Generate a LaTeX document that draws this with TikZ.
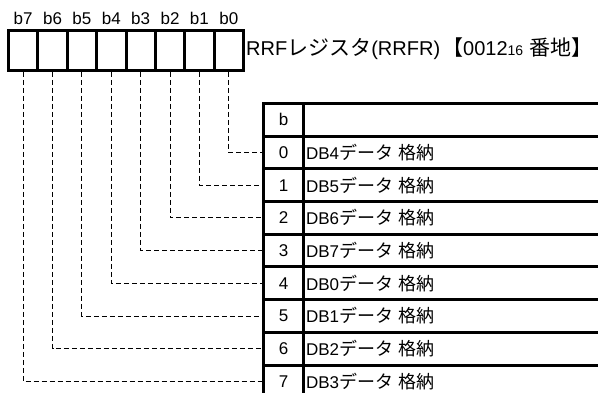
\documentclass[tikz,border=0pt]{standalone}
\usepackage{fontspec}
\usetikzlibrary{calc}
\setmainfont{Liberation Sans}
\newfontfamily\jp{Noto Sans CJK JP}
\begin{document}
\begin{tikzpicture}[x=1pt,y=-1pt,
  regcell/.style={draw,line width=3pt,minimum width=29.375pt,minimum height=40pt,inner sep=0pt,anchor=north west},
  bitlbl/.style={font=\fontsize{17}{17}\selectfont,inner sep=0pt,anchor=base},
  tcell/.style={draw,line width=3pt,minimum height=32.7pt,inner sep=0pt,anchor=north west},
  numcell/.style={tcell,minimum width=40pt,font=\fontsize{17}{17}\selectfont},
  desccell/.style={tcell,minimum width=320pt,text width=315pt,inner xsep=2.5pt,align=left,font=\fontsize{17}{17}\selectfont},
  conn/.style={line width=0.9pt,dash pattern=on 5pt off 3pt},
  title/.style={font=\fontsize{20}{20}\selectfont,inner sep=0pt,anchor=base west}
]
\useasboundingbox (0,0) rectangle (598,393);
% register
\foreach \i in {0,...,7}{
  \pgfmathsetmacro{\xx}{7+(7-\i)*29.375}
  \node[regcell] (r\i) at (\xx,29) {};
  \node[bitlbl] (l\i) at ($(r\i.north)+(0,-4.8)$) {b\i};
}
\newcommand{\jpt}[1]{{\fontsize{21}{21}\selectfont\jp #1}}
\node[title] (ttl) at (246,56) {RRF\jpt{レジスタ}(RRFR)\hspace{2pt}\jpt{【}0012{\fontsize{14}{14}\selectfont 16}\hspace{6pt}\jpt{番地】}};
% table header
\node[numcell] (hb) at (262,102) {b};
\node[desccell] (hd) at (302,102) {};
% table rows
\newcommand{\dbname}[1]{DB#1{\fontsize{18}{18}\selectfont\jp データ}\hspace{5pt}{\fontsize{18}{18}\selectfont\jp 格納}}
\foreach \i/\d in {0/4,1/5,2/6,3/7,4/0,5/1,6/2,7/3}{
  \pgfmathsetmacro{\yy}{134.7+\i*32.7}
  \node[numcell] (n\i) at (262,\yy) {\i};
  \node[desccell] (d\i) at (302,\yy) {\dbname{\d}};
}
% connectors
\foreach \i in {0,...,7}{
  \draw[conn] (r\i.south) |- (n\i.west);
}
\end{tikzpicture}
\end{document}
